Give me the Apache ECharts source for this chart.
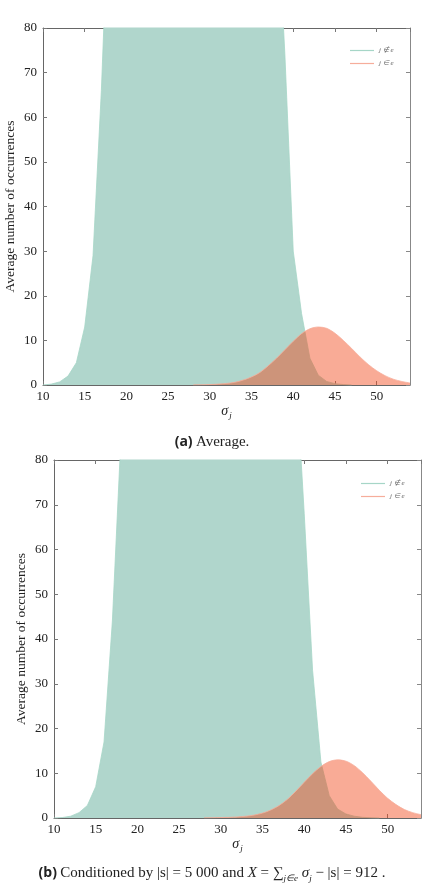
<!DOCTYPE html>
<html>
<head>
<meta charset="utf-8">
<script src="https://cdn.jsdelivr.net/npm/echarts@6/dist/echarts.min.js"></script>
<style>
  body { margin: 0; background: #fff; }
  #main { width: 424px; height: 886px; }
</style>
</head>
<body>
<div id="main"></div>
<script>
// x positions (sigma_j)
const sigmaGreenA = [10,11,12,13,14,15,16,17,18,19,20,21,22,23,24,25,26,27,28,29,30,31,32,33,34,35,36,37,38,39,40,41,42,43,44,45,46,47]
const sigmaGreenB = [10,11,12,13,14,15,16,17,18,19,20,21,22,23,24,25,26,27,28,29,30,31,32,33,34,35,36,37,38,39,40,41,42,43,44,45,46,47,48,49]
const sigmaRed = [28,29,30,31,32,33,34,35,36,37,38,39,40,41,42,43,44,45,46,47,48,49,50,51,52,53,54]

// (a) average
const greenA = [0,0.2,0.7,2,5,13,29,66,115,170,225,280,325,360,385,395,392,380,360,335,305,275,245,215,190,165,145,125,110,74,30,16,6,2.2,0.8,0.3,0.1,0]
const redA = [0.02,0.05,0.1,0.2,0.35,0.6,1.1,1.8,2.8,4.3,6.0,7.9,9.8,11.5,12.6,13.0,12.7,11.6,10.0,8.2,6.3,4.6,3.2,2.1,1.3,0.8,0.45]

// (b) conditioned
const greenB = [0,0.1,0.4,1.2,2.8,7,17,44,84,135,190,245,295,335,365,380,385,378,362,340,312,282,252,225,200,178,160,142,122,100,68,33,12.5,5,2,0.9,0.4,0.15,0.05,0]
const redB = [0.03,0.06,0.1,0.15,0.25,0.4,0.65,1.1,1.8,2.8,4.2,6.0,8.0,9.9,11.5,12.6,13.0,12.7,11.7,10.1,8.2,6.2,4.4,3.0,1.9,1.2,0.75]

const seriesNames = ['j ∉ e', 'j ∈ e']

const serif = 'Liberation Serif'
const frame = '#666'

function pairs(xs, ys) {
  return xs.map((x, i) => [x, ys[i]])
}

function xAxes(gridIndex, gap) {
  return [
    {
      gridIndex, type: 'value', min: 10, max: 54, interval: 5, position: 'bottom',
      name: '{s|σ}{sub|j}', nameLocation: 'middle', nameGap: gap,
      nameTextStyle: {
        rich: {
          s: {fontFamily: serif, fontStyle: 'italic', fontSize: 14, color: '#222'},
          sub: {fontFamily: serif, fontStyle: 'italic', fontSize: 9, color: '#222', padding: [9, 0, 0, 1]}
        }
      },
      axisLine: {show: true, onZero: false, lineStyle: {color: frame, width: 1}},
      axisTick: {inside: true, length: 4, lineStyle: {color: '#777'}},
      axisLabel: {fontFamily: serif, fontSize: 13, color: '#222', margin: 5, showMaxLabel: false},
      splitLine: {show: false}
    },
    {
      gridIndex, type: 'value', min: 10, max: 54, interval: 5, position: 'top',
      axisLine: {show: true, onZero: false, lineStyle: {color: frame, width: 1}},
      axisTick: {inside: true, length: 4, lineStyle: {color: '#777'}},
      axisLabel: {show: false},
      splitLine: {show: false}
    }
  ]
}

function yAxes(gridIndex, gap) {
  return [
    {
      gridIndex, type: 'value', min: 0, max: 80, interval: 10, position: 'left',
      name: 'Average number of occurrences', nameLocation: 'middle', nameGap: gap,
      nameMoveOverlap: false,
      nameTextStyle: {fontFamily: serif, fontSize: 13.5, color: '#222'},
      axisLine: {show: true, onZero: false, lineStyle: {color: frame, width: 1}},
      axisTick: {inside: true, length: 4, lineStyle: {color: '#777'}},
      axisLabel: {fontFamily: serif, fontSize: 13, color: '#222', margin: 6},
      splitLine: {show: false}
    },
    {
      gridIndex, type: 'value', min: 0, max: 80, interval: 10, position: 'right',
      axisLine: {show: true, onZero: false, lineStyle: {color: '#888', width: 1}},
      axisTick: {inside: true, length: 4, lineStyle: {color: '#888'}},
      axisLabel: {show: false},
      splitLine: {show: false}
    }
  ]
}

function greenSeries(xi, yi, xs, ys) {
  return {
    name: seriesNames[0], type: 'line', xAxisIndex: xi, yAxisIndex: yi,
    data: pairs(xs, ys), symbol: 'none', smooth: false, clip: true,
    itemStyle: {color: '#a6d6c7'},
    lineStyle: {color: '#a6d6c7', width: 0.8},
    areaStyle: {color: '#b0d6cc', opacity: 1},
    z: 2
  }
}

function redSeries(xi, yi, xs, ys) {
  return {
    name: seriesNames[1], type: 'line', xAxisIndex: xi, yAxisIndex: yi,
    data: pairs(xs, ys), symbol: 'none', smooth: 0.3, clip: true,
    itemStyle: {color: '#f6ad9b'},
    lineStyle: {color: '#f6ad9b', width: 0.8},
    areaStyle: {color: 'rgb(242,68,22)', opacity: 0.45},
    z: 3
  }
}

function legendAt(left, top) {
  return {
    left, top, orient: 'vertical', itemGap: 6, itemWidth: 24, itemHeight: 1.2,
    icon: 'rect',
    data: seriesNames,
    textStyle: {fontFamily: serif, fontStyle: 'italic', fontSize: 7, color: '#666'},
    selectedMode: false
  }
}

const myChart = echarts.init(document.getElementById('main'), null, {renderer: 'canvas'})

const option = {
  animation: false,
  backgroundColor: '#fff',
  grid: [
    {left: 43, top: 28, width: 367, height: 357, outerBoundsMode: 'none', containLabel: false},
    {left: 54, top: 460, width: 367, height: 358, outerBoundsMode: 'none', containLabel: false}
  ],
  legend: [legendAt(345, 42), legendAt(356, 475)],
  xAxis: [...xAxes(0, 16), ...xAxes(1, 17)],
  yAxis: [...yAxes(0, 26), ...yAxes(1, 26)],
  series: [
    greenSeries(0, 0, sigmaGreenA, greenA),
    redSeries(0, 0, sigmaRed, redA),
    greenSeries(2, 2, sigmaGreenB, greenB),
    redSeries(2, 2, sigmaRed, redB)
  ],
  graphic: [
    {
      type: 'text', left: 'center', top: 435,
      style: {
        text: '{b|(a)} {t|Average.}',
        rich: {
          b: {fontFamily: 'Open Sans', fontWeight: 'bold', fontSize: 14, fill: '#222'},
          t: {fontFamily: serif, fontSize: 15, fill: '#222'}
        }
      }
    },
    {
      type: 'text', left: 'center', top: 866,
      style: {
        text: '{b|(b)} {t|Conditioned by |s| = 5 000 and }{i|X}{t| = ∑}{sub|j∈e}{i| σ}{sub|j}{t| − |s| = 912 .}',
        rich: {
          b: {fontFamily: 'Open Sans', fontWeight: 'bold', fontSize: 14, fill: '#222'},
          t: {fontFamily: serif, fontSize: 15, fill: '#222'},
          i: {fontFamily: serif, fontStyle: 'italic', fontSize: 15, fill: '#222'},
          sub: {fontFamily: serif, fontStyle: 'italic', fontSize: 9, fill: '#222', padding: [11, 0, 0, 0]}
        }
      }
    }
  ]
}

myChart.setOption(option)
</script>
</body>
</html>
